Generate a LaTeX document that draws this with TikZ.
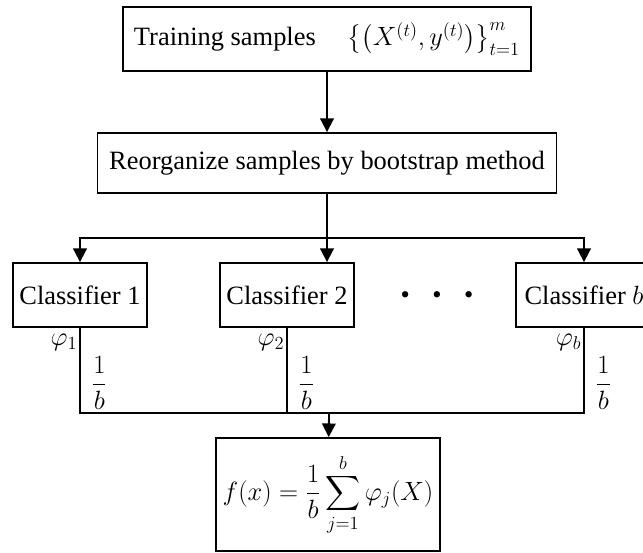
\documentclass[tikz,border=0pt]{standalone}
\usepackage{fix-cm}
\usepackage{amsmath}
\usepackage{fontspec}
\setmainfont{Liberation Serif}
\usetikzlibrary{arrows.meta,positioning,calc}
\tikzset{box/.style={draw,line width=1.3pt,inner sep=0pt,align=center}, wire/.style={line width=1.3pt}, arr/.style={-{Triangle[length=3.4mm,width=3.4mm]},line width=1.3pt}, lbl/.style={inner sep=1pt}}

\begin{document}
\begin{tikzpicture}[x=0.025cm,y=-0.025cm,font=\fontsize{18.8}{22}\selectfont]
\useasboundingbox (0,0) rectangle (643,552);
\node[box,minimum width=10.2cm,minimum height=1.6cm](train)at(327,39){Training samples\hspace{1.2em}$\bigl\{\bigl(X^{(t)},y^{(t)}\bigr)\bigr\}_{t=1}^{m}$};
\node[box,minimum width=11.475cm,minimum height=1.5cm](reorg)at(327,163){Reorganize samples by bootstrap method};
\node[box,minimum width=3.35cm,minimum height=1.6cm](c1)at(80,295){Classifier 1};\node[box,minimum width=3.35cm,minimum height=1.6cm](c2)at(287,295){Classifier 2};\node[box,minimum width=3.4cm,minimum height=1.6cm](cb)at(584,295){Classifier $b$};
\node(dots)at(437,298){\textbullet\hspace{0.85em}\textbullet\hspace{0.85em}\textbullet};
\node[box,minimum width=5.6cm,minimum height=2.825cm](final)at(328,494.5){$\displaystyle f(x)=\frac{1}{b}\sum_{j=1}^{b}\varphi_j(X)$};
\coordinate(split)at(327,238);\coordinate(join)at(329,413);
% fan out to the classifiers
\draw[arr](train)--(reorg);\draw[wire](reorg)--(split);
\draw[arr](split)-|(c1);\draw[arr](split)-|(cb);\draw[arr](split)--(split|-c2.north);
% weighted votes
\draw[wire](c1)|-(join-|cb)--(cb);\draw[wire](c2)--(join-|c2);\draw[arr](join)--(final);
\node[lbl,anchor=east](p1)at(79,342){$\varphi_1$};\node[lbl,anchor=west](w1)at(90,383){$\displaystyle\frac{1}{b}$};
\node[lbl,anchor=east](p2)at(286,342){$\varphi_2$};\node[lbl,anchor=west](w2)at(297,383){$\displaystyle\frac{1}{b}$};
\node[lbl,anchor=east](pb)at(583,342){$\varphi_b$};\node[lbl,anchor=west](wb)at(594,383){$\displaystyle\frac{1}{b}$};
\end{tikzpicture}
\end{document}
